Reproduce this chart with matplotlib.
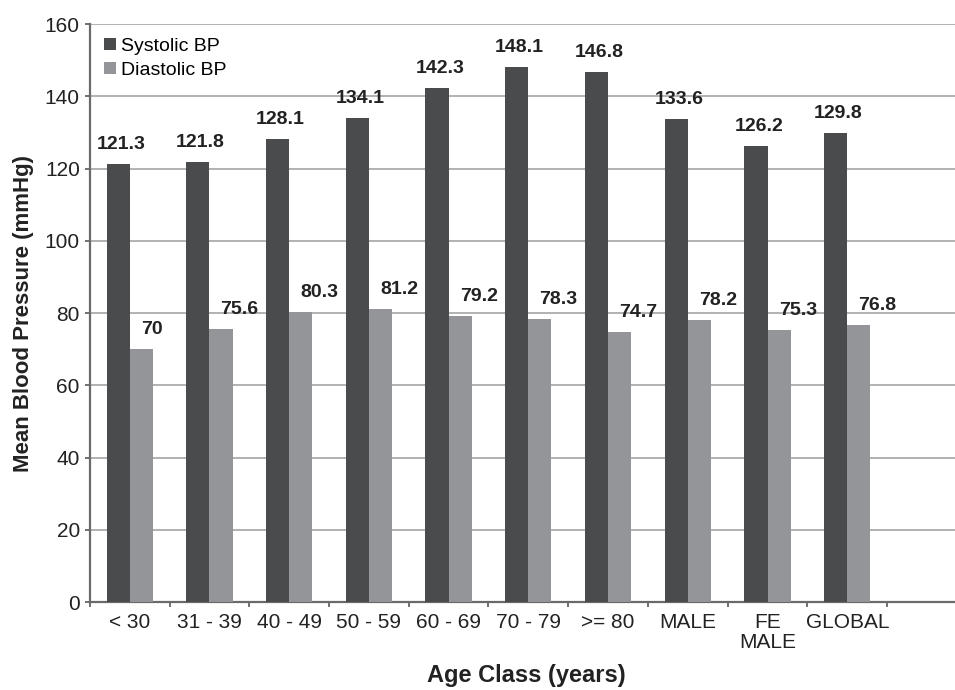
import matplotlib
matplotlib.use("Agg")
import matplotlib.pyplot as plt
import numpy as np

# values
categories = ["< 30", "31 - 39", "40 - 49", "50 - 59", "60 - 69", "70 - 79",
              ">= 80", "MALE", "FE\nMALE", "GLOBAL"]
systolic = [121.3, 121.8, 128.1, 134.1, 142.3, 148.1, 146.8, 133.6, 126.2, 129.8]
diastolic = [70, 75.6, 80.3, 81.2, 79.2, 78.3, 74.7, 78.2, 75.3, 76.8]
sys_labels = ["121.3", "121.8", "128.1", "134.1", "142.3", "148.1", "146.8",
              "133.6", "126.2", "129.8"]
dia_labels = ["70", "75.6", "80.3", "81.2", "79.2", "78.3", "74.7", "78.2",
              "75.3", "76.8"]

plt.rcParams['font.family'] = ['Liberation Sans', 'DejaVu Sans']

fig = plt.figure(figsize=(9.55, 6.9), dpi=100)
ax = fig.add_axes([0.094, 0.1275, 0.906, 0.8375])

x = np.arange(len(categories))
w = 0.29
c_sys = "#4a4b4d"
c_dia = "#939598"

ax.bar(x - w / 2, systolic, w, color=c_sys, label="Systolic BP", zorder=3)
ax.bar(x + w / 2, diastolic, w, color=c_dia, label="Diastolic BP", zorder=3)

# value labels: systolic centred over bar, diastolic starting a bit right of bar edge
for i in range(len(categories)):
    ax.annotate(sys_labels[i], (x[i] - w / 2, systolic[i]), xytext=(2, 10.8),
                textcoords="offset points", ha="center", va="baseline",
                fontsize=14, fontweight="bold", color="#222222")
    ax.annotate(dia_labels[i], (x[i], diastolic[i]), xytext=(8, 10.8),
                textcoords="offset points", ha="left", va="baseline",
                fontsize=14, fontweight="bold", color="#222222")

ax.set_ylim(0, 160)
ax.set_xlim(-0.5, 10.35)
ax.set_yticks(np.arange(0, 161, 20))
ax.yaxis.grid(True, color="#ababab", linewidth=1.3, zorder=0)
ax.set_axisbelow(True)

ax.set_xticks(np.arange(-0.5, 10, 1.0))
ax.set_xticklabels([])
ax.set_xticks(x, minor=True)
ax.set_xticklabels(categories, minor=True, fontsize=15, linespacing=1.05,
                   color="#222222")
ax.tick_params(axis="x", which="minor", length=0, pad=8)
ax.tick_params(axis="x", which="major", length=3.6, width=1.3, color="#666666",
               direction="out")
ax.tick_params(axis="y", length=3.6, width=1.3, color="#666666", labelsize=15,
               labelcolor="#222222", pad=3.6)

for s in ["top", "right"]:
    ax.spines[s].set_visible(False)
for s in ["left", "bottom"]:
    ax.spines[s].set_color("#6a6a6a")
    ax.spines[s].set_linewidth(1.6)

ax.set_ylabel("Mean Blood Pressure (mmHg)", fontsize=16, fontweight="bold",
              labelpad=8, color="#222222")
ax.set_xlabel("Age Class (years)", fontsize=17, fontweight="bold",
              color="#222222")
ax.xaxis.set_label_coords(0.505, -0.108)

ax.legend(loc="upper left", frameon=False, fontsize=14, handlelength=0.57,
          handleheight=0.57, handletextpad=0.3, labelspacing=0.35,
          borderaxespad=0, bbox_to_anchor=(0.008, 0.99))

fig.savefig("out.png", dpi=100)
